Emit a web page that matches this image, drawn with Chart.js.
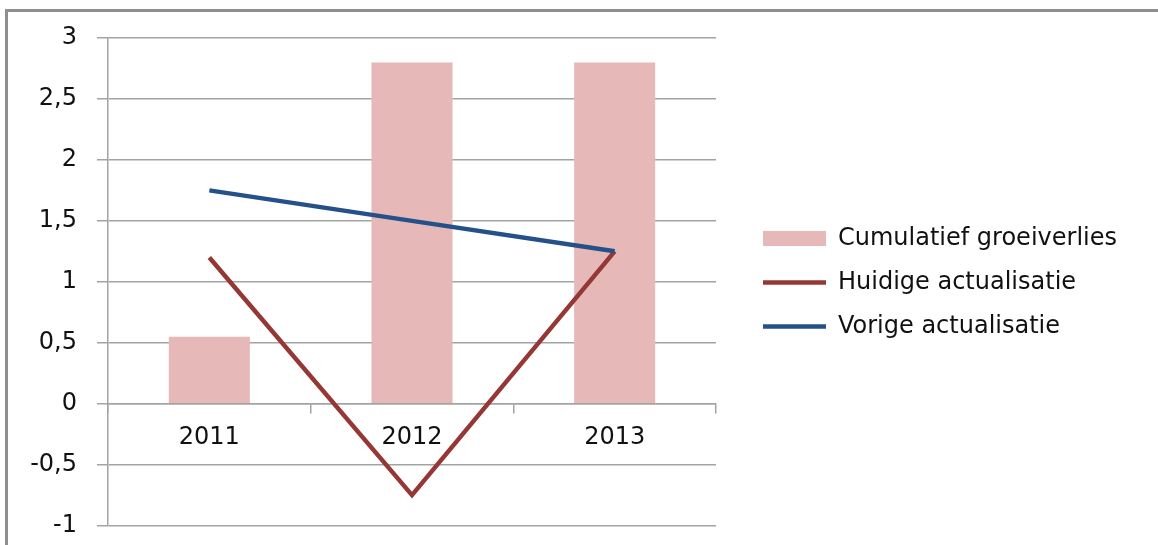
<!DOCTYPE html>
<html>
<head>
<meta charset="utf-8">
<script src="https://cdn.jsdelivr.net/npm/chart.js@4/dist/chart.umd.min.js"></script>
<style>
    html, body { margin: 0; padding: 0; background: #fff; overflow: hidden; }
    #frame { position: absolute; left: 5px; top: 9px; width: 1200px; height: 600px;
             border-left: 3px solid #8f8f8f; border-top: 3px solid #8f8f8f; }
    #wrap { position: absolute; left: 0; top: 0; width: 1158px; height: 560px; }
</style>
</head>
<body>
<div id="frame"></div>
<div id="wrap"><canvas id="chart"></canvas></div>
<script>
var years = ["2011", "2012", "2013"];
var groeiverlies = [0.55, 2.8, 2.8];
var huidige = [1.2, -0.75, 1.25];
var vorige = [1.75, 1.5, 1.25];
var seriesNames = ["Cumulatief groeiverlies", "Huidige actualisatie", "Vorige actualisatie"];

var gridColor = "#a3a3a3";
var LEGEND_W = 415;

// the layout caps a side legend at a quarter of the width, widen it after fit
var legendWidth = {
    id: "legendWidth",
    afterInit: function (chart) {
        var lg = chart.legend;
        var fit = lg.fit;
        lg.fit = function () { fit.call(this); this.width = LEGEND_W; };
    }
};

var ctx = document.getElementById("chart").getContext("2d");
new Chart(ctx, {
    data: {
        labels: years,
        datasets: [
            { type: "line", label: seriesNames[1], data: huidige, borderColor: "#953735", backgroundColor: "#953735",
              borderWidth: 4.5, pointRadius: 0, tension: 0, order: 1 },
            { type: "line", label: seriesNames[2], data: vorige, borderColor: "#245189", backgroundColor: "#245189",
              borderWidth: 4.5, pointRadius: 0, tension: 0, order: 0 },
            { type: "bar", label: seriesNames[0], data: groeiverlies, backgroundColor: "#e6b9b8", borderWidth: 0,
              barPercentage: 0.4, categoryPercentage: 1, order: 2 }
        ]
    },
    plugins: [legendWidth],
    options: {
        responsive: true, maintainAspectRatio: false, animation: false,
        layout: { padding: { top: 38, bottom: 33, left: 0, right: 0 } },
        plugins: {
            tooltip: { enabled: false },
            legend: {
                position: "right",
                labels: {
                    usePointStyle: true, pointStyleWidth: 63, boxHeight: 15, padding: 20,
                    color: "#111", font: { family: "DejaVu Sans", size: 24 },
                    generateLabels: function (chart) {
                        var order = [2, 0, 1];
                        return order.map(function (i) {
                            var ds = chart.data.datasets[i];
                            var isBar = ds.type === "bar";
                            return {
                                text: ds.label, datasetIndex: i,
                                fillStyle: isBar ? ds.backgroundColor : ds.borderColor,
                                strokeStyle: ds.borderColor || ds.backgroundColor,
                                lineWidth: isBar ? 0 : 4.5,
                                pointStyle: isBar ? "rect" : "line",
                                fontColor: "#111", hidden: false
                            };
                        });
                    }
                }
            }
        },
        scales: {
            x: {
                position: { y: 0 },
                grid: { display: true, drawOnChartArea: false, drawTicks: true, tickLength: 9, color: gridColor, lineWidth: 1.5, offset: true },
                border: { display: true, color: gridColor, width: 1.5 },
                ticks: { color: "#111", font: { family: "DejaVu Sans", size: 24 }, padding: 11 }
            },
            y: {
                min: -1, max: 3,
                grid: { color: gridColor, lineWidth: 1.5, tickLength: 11 },
                border: { display: true, color: gridColor, width: 1.5 },
                ticks: { stepSize: 0.5, color: "#111", padding: 20, font: { family: "DejaVu Sans", size: 24 },
                         callback: function (v) { return String(v).replace(".", ","); } },
                afterFit: function (scale) { scale.width = 108; }
            },
            gap: {
                position: "right", display: true,
                grid: { display: false }, border: { display: false },
                ticks: { display: false },
                afterFit: function (scale) { scale.width = 27; }
            }
        }
    }
});
</script>
</body>
</html>
